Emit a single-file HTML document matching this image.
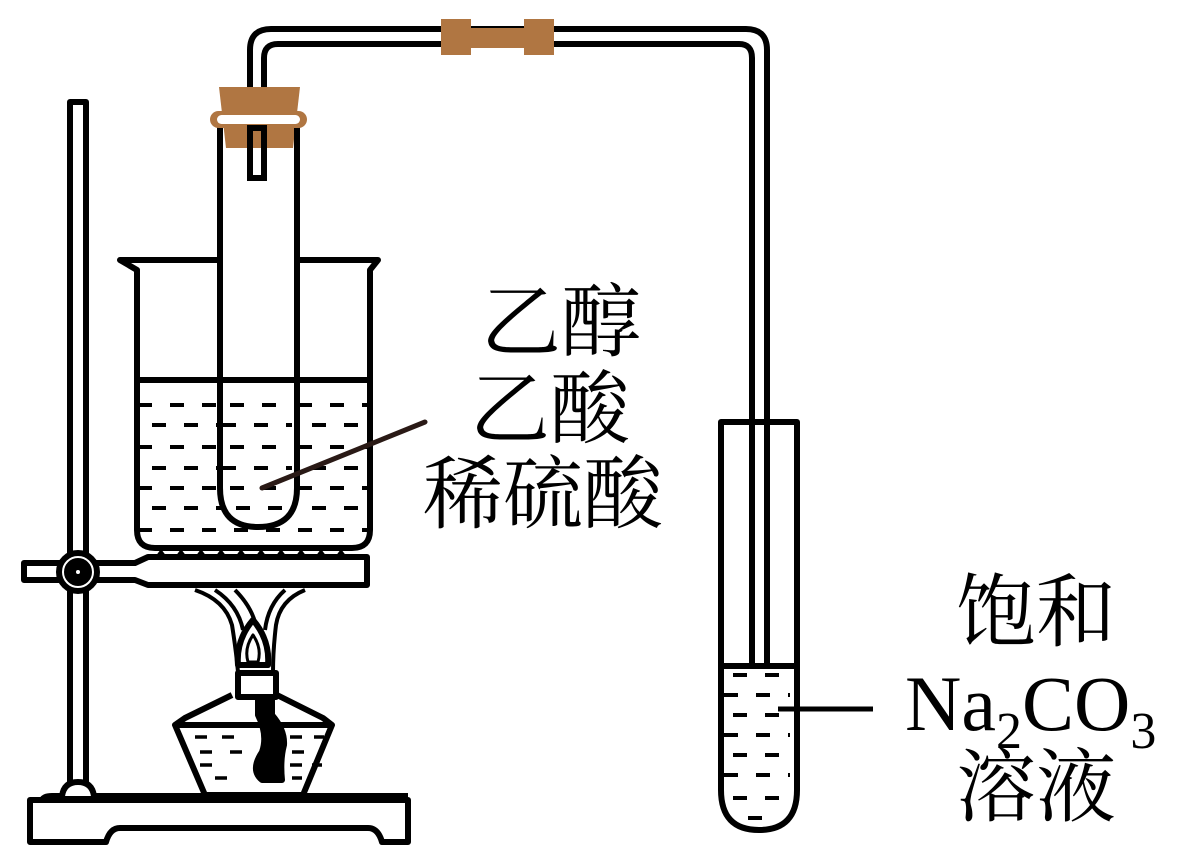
<!DOCTYPE html>
<html><head><meta charset="utf-8"><style>
html,body{margin:0;padding:0;background:#fff;}
svg{display:block;}
.t{font-family:"Liberation Serif","Noto Serif CJK SC",serif;font-size:80px;fill:#000;}
</style></head><body>
<svg width="1193" height="868" viewBox="0 0 1193 868" xmlns="http://www.w3.org/2000/svg">
<g fill="none" stroke="#000" stroke-width="6" stroke-linejoin="round">
<!-- stand rod -->
<rect x="70" y="102" width="16" height="690" fill="#fff"/>
<!-- base -->
<path d="M30 800 H408 V842 H382 Q378 828 368 828 H120 Q110 828 106 842 H30 Z" fill="#fff"/>
<path d="M42 800 Q44 796 52 796 H408" />
<path d="M62 796 Q64 782 78 782 Q92 782 94 796" fill="#fff"/>
<!-- arm -->
<path d="M24 563 H135 L148 557 H367 V585 H148 L135 580 H24 Z" fill="#fff"/>
<circle cx="78" cy="572" r="19" fill="#fff"/>
<circle cx="78" cy="572" r="11" fill="#000"/>
<circle cx="78" cy="572" r="2" fill="#fff" stroke="none"/>
<!-- heat lines -->
<path d="M195 590 Q225 600 232 625 Q236 650 238 672" stroke-width="4"/>
<path d="M215 590 Q238 605 243 630" stroke-width="4"/>
<path d="M235 590 Q250 605 255 622" stroke-width="4"/>
<path d="M305 590 Q280 600 276 625 Q273 650 273 672" stroke-width="4"/>
<path d="M285 590 Q268 605 265 630" stroke-width="4"/>
<!-- flame -->
<path d="M253 620 Q270 640 268 665 H238 Q236 640 253 620 Z" fill="#fff"/>
<path d="M253 635 Q262 648 258 662 H248 Q244 648 253 635 Z" fill="#fff" stroke-width="3"/>
<!-- lamp -->
<path d="M232 695 L185 718 L175 725 L205 795 H303 L332 725 L323 718 L277 695" fill="#fff"/>
<path d="M176 725 H332"/>
<rect x="238" y="673" width="38" height="24" fill="#fff"/>
<path d="M258 697 V715 Q268 735 262 752 Q250 770 262 780 L282 780 Q280 760 284 745 Q285 730 272 715 V697 Z" fill="#000"/>
<g stroke-width="3.5">
<path d="M195 737 h12 M222 737 h12 M290 737 h12 M314 737 h10 M200 752 h12 M230 752 h12 M292 752 h12 M200 765 h12 M290 765 h12 M312 765 h10 M215 778 h12 M292 778 h10"/>
</g>
<!-- beaker -->
<path d="M120 260 H378 L370 270 V530 Q370 548 352 548 H155 Q137 548 137 530 V270 Z" fill="#fff"/>
<path d="M137 380 H368"/>
<g stroke-width="4" stroke-dasharray="14 18">
<path d="M138 405 H368 M152 425 H368 M138 447 H368 M152 468 H368 M138 488 H368 M152 508 H368 M138 530 H368"/>
</g>
<!-- triangles -->
<g fill="#000" stroke="none">
<path d="M155 557 l6 -8 l6 8z M175 557 l6 -8 l6 8z M195 557 l6 -8 l6 8z M215 557 l6 -8 l6 8z M235 557 l6 -8 l6 8z M255 557 l6 -8 l6 8z M275 557 l6 -8 l6 8z M295 557 l6 -8 l6 8z M315 557 l6 -8 l6 8z M335 557 l6 -8 l6 8z"/>
</g>
<!-- test tube left -->
<path d="M220 120 V488 Q220 527 258 527 Q297 527 297 488 V120" fill="#fff"/>
<g stroke-width="4" stroke-dasharray="14 18">
<path d="M230 405 H292 M222 425 H292 M230 447 H292 M222 468 H292 M230 488 H292 M236 508 H285"/>
</g>
<path d="M220 380 H297"/>
<!-- delivery tube -->
<path d="M250 178 V50 Q250 29 271 29 H746 Q767 29 767 50 V665" />
<path d="M264 178 V58 Q264 44 278 44 H739 Q752 44 752 58 V665"/>
<path d="M250 178 H264" />
<!-- right tube -->
<path d="M721 422 H797 V790 Q797 830 759 830 Q721 830 721 790 Z"/>
<path d="M721 666 H797"/>
<g stroke-width="4" stroke-dasharray="14 18">
<path d="M733 675 H790 M724 695 H790 M733 715 H790 M724 735 H790 M733 755 H790 M724 775 H790 M733 798 H790 M748 818 H775"/>
</g>
<path d="M778 709 H873" stroke-width="5"/>
<!-- leader -->
<path d="M262 488 L425 422" stroke="#2a1a16" stroke-width="5" stroke-linecap="round"/>
</g>
<!-- cork & connector -->
<g fill="#b07642">
<path d="M219 87 H300 L293 148 H226 Z"/>
<rect x="210" y="111" width="97" height="17" rx="8.5"/>
<rect x="441" y="19" width="30" height="36"/>
<rect x="470" y="28" width="55" height="20"/>
<rect x="524" y="19" width="30" height="36"/>
</g>
<rect x="217" y="115" width="83" height="9" rx="4.5" fill="#fff"/>
<rect x="250" y="128" width="14" height="50" fill="none" stroke="#000" stroke-width="6"/>
<rect x="217" y="128" width="6" height="20" fill="#000"/>
<rect x="294" y="128" width="6" height="20" fill="#000"/>
<!-- labels -->
<text class="t" x="561" y="350" text-anchor="middle">乙醇</text>
<text class="t" x="550" y="437" text-anchor="middle">乙酸</text>
<text class="t" x="543" y="522" text-anchor="middle">稀硫酸</text>
<text class="t" x="1036" y="640" text-anchor="middle">饱和</text>
<text class="t" x="905" y="730" style="font-size:78px">Na<tspan font-size="52" dy="18">2</tspan><tspan dy="-18">CO</tspan><tspan font-size="52" dy="18">3</tspan></text>
<text class="t" x="1036" y="815" text-anchor="middle">溶液</text>
</svg>
</body></html>
